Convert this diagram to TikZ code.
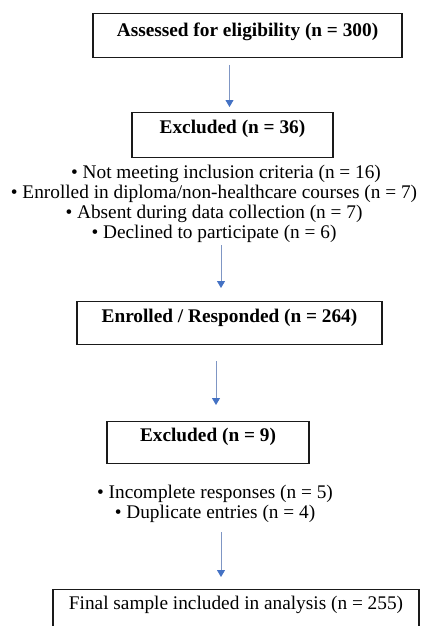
\documentclass[tikz,border=0pt]{standalone}
\usepackage{fontspec}
\setmainfont{Liberation Serif}
\usetikzlibrary{arrows.meta}
\definecolor{arrowblue}{HTML}{4472C4}
\definecolor{shaftblue}{HTML}{7F96C4}
\definecolor{boxline}{HTML}{1A1A1A}
\tikzset{
  box/.style={draw=boxline, line width=1.2pt, anchor=north, inner sep=0pt,
    font=\fontsize{19.3}{20}\selectfont\bfseries},
  plainbox/.style={box, font=\fontsize{19.3}{20}\selectfont},
  bullets/.style={align=center, inner sep=0pt, font=\fontsize{19.3}{20}\selectfont},
  flow/.style={draw=shaftblue, line width=0.9pt,
    -{Triangle[width=8pt,length=7pt,color=arrowblue]}}
}
\begin{document}
\begin{tikzpicture}[x=1pt,y=-1pt]
\useasboundingbox (0,0) rectangle (421,626);
\fill[white] (0,0) rectangle (421,626);

\node[box, minimum width=309pt, text height=23pt, text depth=21pt] (b1) at (247.5,13)
  {Assessed for eligibility (n = 300)};
\node[box, minimum width=201pt, text height=21pt, text depth=24pt] (b2) at (232.5,112)
  {Excluded (n = 36)};
\node[bullets] (l1) at (214,203.5)
  {\hspace*{24pt}• Not meeting inclusion criteria (n = 16)\\
   • Enrolled in diploma/non-healthcare courses (n = 7)\\
   • Absent during data collection (n = 7)\\
   • Declined to participate (n = 6)};
\node[box, minimum width=305pt, text height=21pt, text depth=22pt] (b3) at (229.5,301)
  {Enrolled / Responded (n = 264)};
\node[box, minimum width=202pt, text height=20pt, text depth=22pt] (b4) at (208,421)
  {Excluded (n = 9)};
\node[bullets] (l2) at (215,504)
  {• Incomplete responses (n = 5)\\
   • Duplicate entries (n = 4)};
\node[plainbox, minimum width=366pt, text height=20pt, text depth=25pt] (b5) at (236,589)
  {Final sample included in analysis (n = 255)};

\coordinate (a1s) at (229.5,65);  \coordinate (a1e) at (229.5,107);
\coordinate (a2s) at (221,245);   \coordinate (a2e) at (221,288);
\coordinate (a3s) at (216,361);   \coordinate (a3e) at (216,405);
\coordinate (a4s) at (221,532);   \coordinate (a4e) at (221,577);
\draw[flow] (a1s) -- (a1e);
\draw[flow] (a2s) -- (a2e);
\draw[flow] (a3s) -- (a3e);
\draw[flow] (a4s) -- (a4e);
\end{tikzpicture}
\end{document}
